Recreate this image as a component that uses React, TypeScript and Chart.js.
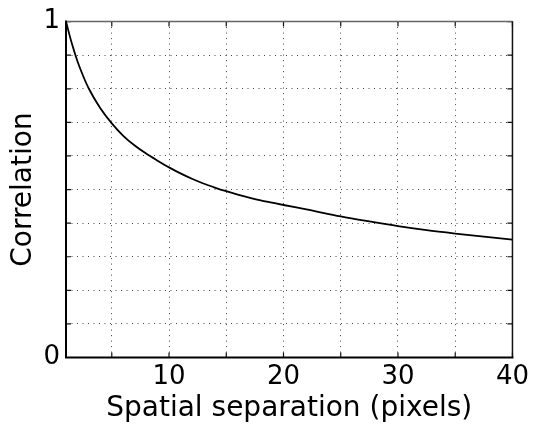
import { useEffect, useRef } from "react";
import { Chart, registerables } from "chart.js";

Chart.register(...registerables);

// Spatial separation (pixels) and measured correlation
const separation = [1, 1.5, 2, 2.5, 3, 4, 5, 6, 7, 8, 9, 10, 11, 12, 13, 14, 15, 16, 17, 18, 19, 20, 22, 25, 27.5, 30, 32.5, 35, 37.5, 40];
const correlation = [1.0, 0.936, 0.882, 0.838, 0.8, 0.742, 0.697, 0.66, 0.631, 0.607, 0.586, 0.566, 0.548, 0.532, 0.518, 0.506, 0.495, 0.485, 0.476, 0.468, 0.461, 0.454, 0.441, 0.42, 0.405, 0.391, 0.379, 0.369, 0.36, 0.351];

const xGridTicks = [5, 10, 15, 20, 25, 30, 35, 40];
const xLabelTicks = [10, 20, 30, 40];
const yGridTicks = [0, 0.1, 0.2, 0.3, 0.4, 0.5, 0.6, 0.7, 0.8, 0.9, 1];
const yLabelTicks = [0, 1];

const xTitle = "Spatial separation (pixels)";
const yTitle = "Correlation";

const FONT = "'DejaVu Sans', sans-serif";

const framePlugin = {
  id: "frame",
  afterDraw(chart: any) {
    const { ctx, chartArea } = chart;
    const { left, right, top, bottom } = chartArea;
    const xs = chart.scales.x;
    const ys = chart.scales.y;
    ctx.save();
    ctx.setLineDash([]);
    ctx.strokeStyle = "#111";
    ctx.lineWidth = 1.2;
    const tl = 5;
    ctx.beginPath();
    for (const v of xGridTicks) {
      const px = xs.getPixelForValue(v);
      ctx.moveTo(px, bottom);
      ctx.lineTo(px, bottom - tl);
      ctx.moveTo(px, top);
      ctx.lineTo(px, top + tl);
    }
    for (const v of yGridTicks) {
      const py = ys.getPixelForValue(v);
      ctx.moveTo(left, py);
      ctx.lineTo(left + tl, py);
      ctx.moveTo(right, py);
      ctx.lineTo(right - tl, py);
    }
    ctx.stroke();
    ctx.strokeStyle = "#666";
    ctx.lineWidth = 1.5;
    ctx.beginPath();
    ctx.moveTo(left, top);
    ctx.lineTo(right, top);
    ctx.stroke();
    ctx.strokeStyle = "#111";
    ctx.beginPath();
    ctx.moveTo(right, top);
    ctx.lineTo(right, bottom);
    ctx.stroke();
    ctx.strokeStyle = "#000";
    ctx.lineWidth = 2;
    ctx.beginPath();
    ctx.moveTo(left, top - 1);
    ctx.lineTo(left, bottom);
    ctx.lineTo(right + 1, bottom);
    ctx.stroke();
    ctx.restore();
  },
};

export default function App() {
  const ref = useRef<HTMLCanvasElement | null>(null);

  useEffect(() => {
    document.body.style.margin = "0";
    if (!ref.current) return;
    const chart = new Chart(ref.current, {
      type: "line",
      data: {
        datasets: [
          {
            data: separation.map((x, i) => ({ x, y: correlation[i] })),
            borderColor: "#000",
            borderWidth: 1.8,
            pointRadius: 0,
            cubicInterpolationMode: "monotone",
            fill: false,
          },
        ],
      },
      options: {
        animation: false,
        responsive: false,
        devicePixelRatio: 1,
        layout: { padding: { top: 21, right: 19, left: 0, bottom: 0 } },
        plugins: {
          legend: { display: false },
          tooltip: { enabled: false },
        },
        scales: {
          x: {
            type: "linear",
            min: 1,
            max: 40,
            afterBuildTicks: (axis: any) => {
              axis.ticks = xGridTicks.map((v) => ({ value: v }));
            },
            afterFit: (axis: any) => {
              axis.height = 72.5;
            },
            grid: {
              color: "#444",
              lineWidth: 1,
              drawTicks: false,
            },
            border: { display: false, dash: [1, 4.5] },
            ticks: {
              autoSkip: false,
              maxRotation: 0,
              padding: 4,
              color: "#000",
              font: { family: FONT, size: 26 },
              callback: (v: any) => (xLabelTicks.includes(Number(v)) ? String(v) : ""),
            },
            title: {
              display: true,
              text: xTitle,
              color: "#000",
              font: { family: FONT, size: 28 },
              padding: { top: 0, bottom: 4 },
            },
          },
          y: {
            type: "linear",
            min: 0,
            max: 1,
            afterBuildTicks: (axis: any) => {
              axis.ticks = yGridTicks.map((v) => ({ value: v }));
            },
            afterFit: (axis: any) => {
              axis.width = 66;
            },
            grid: {
              color: "#444",
              lineWidth: 1,
              drawTicks: false,
            },
            border: { display: false, dash: [1, 4.5] },
            ticks: {
              autoSkip: false,
              padding: 6,
              color: "#000",
              font: { family: FONT, size: 26 },
              callback: (v: any) => (yLabelTicks.includes(Number(v)) ? String(v) : ""),
            },
            title: {
              display: true,
              text: yTitle,
              color: "#000",
              font: { family: FONT, size: 28 },
              padding: { top: 7, bottom: 0 },
            },
          },
        },
      },
      plugins: [framePlugin],
    } as any);
    return () => chart.destroy();
  }, []);

  return (
    <div style={{ width: 533, height: 430, background: "#fff" }}>
      <canvas ref={ref} width={533} height={430} style={{ display: "block" }} />
    </div>
  );
}
